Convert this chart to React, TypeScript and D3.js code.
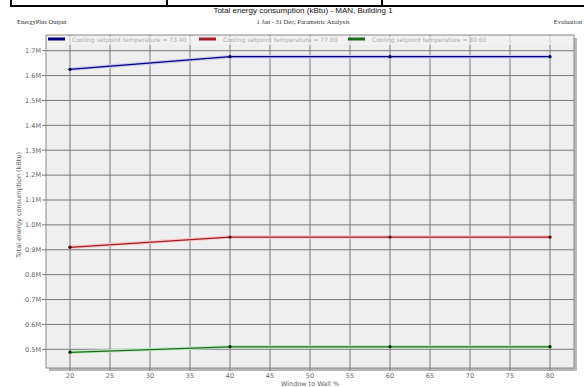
import React from "react";
import * as d3 from "d3";

// window to wall ratio (%)
const wwr = [20, 40, 60, 80];
// total energy consumption, million kBtu
const cool7340 = [1.625, 1.676, 1.676, 1.676];
const cool7700 = [0.91, 0.951, 0.951, 0.951];
const cool8060 = [0.488, 0.51, 0.51, 0.51];
const seriesNames = [
  "Cooling setpoint temperature = 73.40",
  "Cooling setpoint temperature = 77.00",
  "Cooling setpoint temperature = 80.60",
];
const xTicks = [20, 25, 30, 35, 40, 45, 50, 55, 60, 65, 70, 75, 80];
const yTicks = [0.5, 0.6, 0.7, 0.8, 0.9, 1.0, 1.1, 1.2, 1.3, 1.4, 1.5, 1.6, 1.7];

const W = 584;
const H = 387;
const plot = { left: 46, right: 574, top: 35, bottom: 368 };
const sans = "'DejaVu Sans', sans-serif";
const serif = "'Liberation Serif', 'DejaVu Serif', serif";

const colors = [
  { line: "#000080", halo: "#c8c8f0", dot: "#000050" },
  { line: "#a01c28", halo: "#f8c8c8", dot: "#500a10" },
  { line: "#1c6a1c", halo: "#c4ecc4", dot: "#0a300a" },
];

export default function App() {
  const x = d3.scaleLinear().domain([17, 83]).range([plot.left, plot.right]);
  const y = d3.scaleLinear().domain([0.5, 1.7]).range([349.3, 50.7]);

  const series = [cool7340, cool7700, cool8060];
  const line = d3
    .line<number>()
    .x((_, i) => x(wwr[i]))
    .y((d) => y(d));

  const legendX = [48, 199, 348];

  return (
    <svg
      width={W}
      height={H}
      style={{ position: "absolute", left: 0, top: 0, background: "#fff" }}
    >
      {/* page frame remnants */}
      <g stroke="#000" strokeWidth={2} fill="none">
        <line x1={11} y1={6} x2={584} y2={6} />
        <line x1={11} y1={0} x2={11} y2={7} />
        <line x1={167} y1={0} x2={167} y2={6} />
        <line x1={382} y1={0} x2={382} y2={6} />
      </g>

      <text x={303} y={13} textAnchor="middle" fontFamily="'Liberation Sans', Arial, sans-serif" fontSize={8} fill="#111">
        Total energy consumption (kBtu) - MAN, Building 1
      </text>
      <text x={17} y={24} fontFamily={serif} fontSize={6.5} fill="#333">
        EnergyPlus Output
      </text>
      <text x={303} y={24} textAnchor="middle" fontFamily={serif} fontSize={6.5} fill="#333">
        1 Jan - 31 Dec, Parametric Analysis
      </text>
      <text x={582} y={24} textAnchor="end" fontFamily={serif} fontSize={6.5} fill="#333">
        Evaluation
      </text>

      {/* shadow + plot background */}
      <rect x={plot.left + 3} y={plot.top + 3} width={plot.right - plot.left} height={plot.bottom - plot.top} fill="#b8b8b8" />
      <rect x={plot.left} y={plot.top} width={plot.right - plot.left} height={plot.bottom - plot.top} fill="#efefef" stroke="#8a8a8a" strokeWidth={1} />

      {/* grid */}
      <g stroke="#7a7a7a" strokeWidth={1}>
        {xTicks.map((t) => (
          <line key={"gx" + t} x1={x(t)} x2={x(t)} y1={plot.top} y2={plot.bottom + 3} />
        ))}
        {yTicks.map((t) => (
          <line key={"gy" + t} x1={plot.left - 4} x2={plot.right} y1={y(t)} y2={y(t)} />
        ))}
      </g>

      {/* tick labels */}
      <g fontFamily={sans} fontSize={6.5} fill="#666">
        {yTicks.map((t) => (
          <text key={"ty" + t} x={plot.left - 5} y={y(t) + 2.3} textAnchor="end">
            {d3.format(".1f")(t)}M
          </text>
        ))}
        {xTicks.map((t) => (
          <text key={"tx" + t} x={x(t)} y={378} textAnchor="middle">
            {t}
          </text>
        ))}
      </g>
      <text x={310} y={385.5} textAnchor="middle" fontFamily={sans} fontSize={6.5} fill="#666">
        Window to Wall %
      </text>
      <text
        transform="translate(21,205) rotate(-90)"
        textAnchor="middle"
        fontFamily={sans}
        fontSize={6.5}
        fill="#666"
      >
        Total energy consumption (kBtu)
      </text>

      {/* legend */}
      <rect x={plot.left + 1} y={plot.top + 1} width={plot.right - plot.left - 2} height={9} fill="#f4f4f4" opacity={0.7} />
      {seriesNames.map((name, i) => (
        <g key={name}>
          <rect x={legendX[i]} y={37.5} width={17} height={3} fill={colors[i].line} />
          <text x={legendX[i] + 24} y={41.5} fontFamily={sans} fontSize={6} fill="#aaa">
            {name}
          </text>
        </g>
      ))}

      {/* series */}
      {series.map((vals, i) => (
        <g key={"s" + i}>
          <path d={line(vals) ?? ""} fill="none" stroke={colors[i].halo} strokeWidth={3.5} />
          <path d={line(vals) ?? ""} fill="none" stroke={colors[i].line} strokeWidth={1.3} />
          {vals.map((v, j) => (
            <circle key={j} cx={x(wwr[j])} cy={y(v)} r={1.7} fill={colors[i].dot} />
          ))}
        </g>
      ))}
    </svg>
  );
}
